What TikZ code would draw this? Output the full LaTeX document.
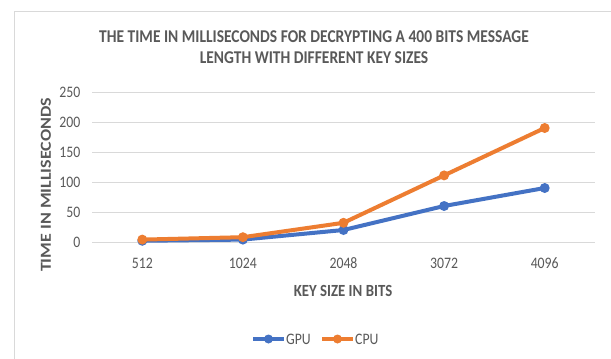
\documentclass[tikz,border=0pt]{standalone}
\usepackage{fontspec}
\setmainfont{Carlito}
\definecolor{gridc}{HTML}{D9D9D9}
\definecolor{framec}{HTML}{D9D9D9}
\definecolor{txtc}{HTML}{595959}
\definecolor{gpuc}{HTML}{4472C4}
\definecolor{cpuc}{HTML}{ED7D31}
\begin{document}
\begin{tikzpicture}[x=1pt,y=-1pt,
  gridline/.style={draw=gridc, line width=0.9pt},
  ticklab/.style={text=txtc, font=\fontsize{16}{18}\selectfont, inner sep=0pt},
  axtitle/.style={text=txtc, font=\bfseries\fontsize{17}{19}\selectfont, inner sep=0pt},
  series/.style={line width=4pt, line join=round, line cap=round},
  dot/.style={circle, inner sep=0pt, minimum size=10pt},
  legdot/.style={circle, inner sep=0pt, minimum size=9pt}]
\useasboundingbox (0,0) rectangle (611,359);
\fill[white] (0,0) rectangle (611,359);
\draw[framec, line width=1pt] (14,359) -- (14,11) -- (611,11);
% title
\node[text=txtc, font=\bfseries\fontsize{18}{21}\selectfont, align=center, inner sep=0pt] (title) at (314,47)
  {\scalebox{0.86}[1]{THE TIME IN MILLISECONDS FOR DECRYPTING A 400 BITS MESSAGE}\\\scalebox{0.86}[1]{LENGTH WITH DIFFERENT KEY SIZES}};
% grid and y ticks
\foreach \v in {0,50,...,250}{
  \draw[gridline] (92,{242-0.6*\v}) -- (595,{242-0.6*\v});
  \node[ticklab, anchor=east] (yt\v) at (80.5,{242-0.6*\v}) {\scalebox{0.86}[1]{\v}};
}
% x ticks
\foreach \k/\x in {512/142.3,1024/242.9,2048/343.5,3072/444.1,4096/544.7}{
  \node[ticklab] (xt\k) at (\x,263) {\scalebox{0.86}[1]{\k}};
}
% axis titles
\node[axtitle] (xtitle) at (343,291) {\scalebox{0.87}[1]{KEY SIZE IN BITS}};
\node[axtitle, rotate=90, font=\bfseries\fontsize{18}{20}\selectfont] (ytitle) at (46,185) {\scalebox{1}[0.85]{TIME IN MILLISECONDS}};
% data coordinates
\foreach \i/\x/\g/\c in {1/142.3/2/4,2/242.9/4/8,3/343.5/20/32,4/444.1/60/111,5/544.7/90/190}{
  \coordinate (g\i) at (\x,{242-0.6*\g});
  \coordinate (c\i) at (\x,{242-0.6*\c});
}
\draw[series, gpuc] (g1) -- (g2) -- (g3) -- (g4) -- (g5);
\foreach \i in {1,...,5}{\node[dot, fill=gpuc] (gm\i) at (g\i) {};}
\draw[series, cpuc] (c1) -- (c2) -- (c3) -- (c4) -- (c5);
\foreach \i in {1,...,5}{\node[dot, fill=cpuc] (cm\i) at (c\i) {};}
% legend
\coordinate (lg1) at (253,339);
\coordinate (lg2) at (284,339);
\coordinate (lc1) at (322,339);
\coordinate (lc2) at (353,339);
\draw[gpuc, line width=4pt] (lg1) -- (lg2);
\node[legdot, fill=gpuc] (lgm) at (268.5,339) {};
\node[ticklab, anchor=west] (lgt) at (286,339) {\scalebox{0.86}[1]{GPU}};
\draw[cpuc, line width=4pt] (lc1) -- (lc2);
\node[legdot, fill=cpuc] (lcm) at (337.5,339) {};
\node[ticklab, anchor=west] (lct) at (355,339) {\scalebox{0.86}[1]{CPU}};
\end{tikzpicture}
\end{document}
